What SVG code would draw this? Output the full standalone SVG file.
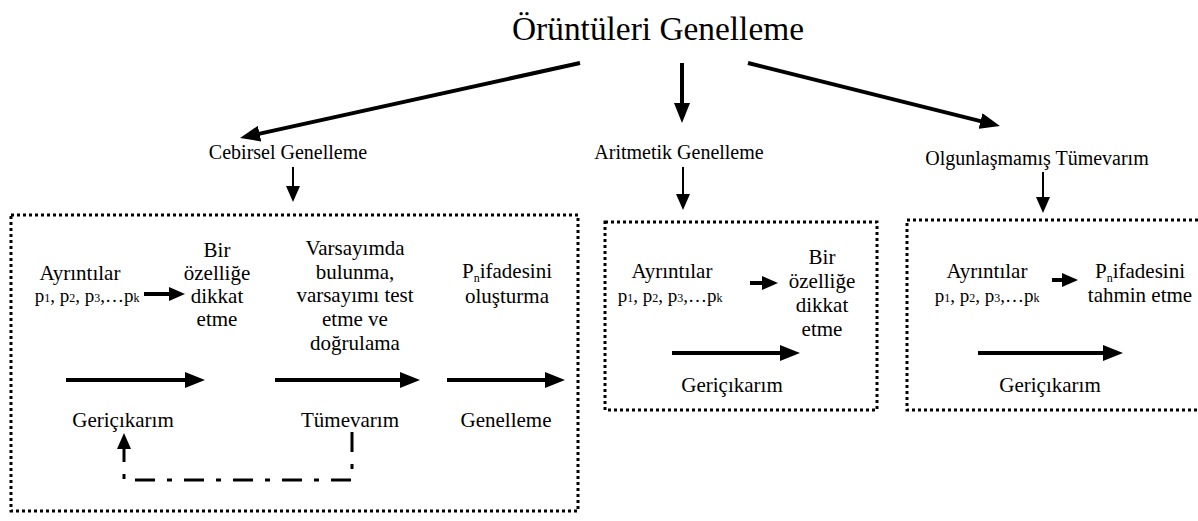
<svg xmlns="http://www.w3.org/2000/svg" width="1198" height="521" viewBox="0 0 1198 521">
<style>
text{font-family:"Liberation Serif","Noto Serif","DejaVu Serif",Tinos,"Times New Roman",serif;fill:#000;text-anchor:middle}
.t{font-size:21px}
.p{font-size:19px}
.h{font-size:20px}
.ti{font-size:33px}
.s{font-size:12px}
.box{fill:none;stroke:#000;stroke-width:3;stroke-dasharray:3 3}
.a4{fill:none;stroke:#000;stroke-width:4}
.a2{fill:none;stroke:#000;stroke-width:2}
.dd{fill:none;stroke:#000;stroke-width:3;stroke-dasharray:20 12 5 12}
</style>
<defs>
<marker id="big" markerUnits="userSpaceOnUse" markerWidth="20" markerHeight="16" viewBox="0 0 20 16" refX="2" refY="8" orient="auto"><path d="M0,0 L20,8 L0,16 z" fill="#000"/></marker>
<marker id="sm" markerUnits="userSpaceOnUse" markerWidth="16" markerHeight="14" viewBox="0 0 16 14" refX="2" refY="7" orient="auto"><path d="M0,0 L16,7 L0,14 z" fill="#000"/></marker>
</defs>

<g id="title"><text class="ti" x="658" y="40" textLength="292" lengthAdjust="spacingAndGlyphs">Örüntüleri Genelleme</text></g>

<g id="cebirsel"><text class="h" x="288" y="159">Cebirsel Genelleme</text></g>
<g id="aritmetik"><text class="h" x="679" y="159">Aritmetik Genelleme</text></g>
<g id="olgun"><text class="h" x="1037" y="165">Olgunlaşmamış Tümevarım</text></g>

<g id="box1">
<rect class="box" x="11" y="215" width="567" height="296"/>
<text class="t" x="80" y="280">Ayrıntılar</text>
<text class="p" x="87" y="302">p<tspan class="s">1</tspan>, p<tspan class="s">2</tspan>, p<tspan class="s">3</tspan>,…p<tspan class="s">k</tspan></text>
<text class="t" x="217" y="257">Bir</text>
<text class="t" x="217" y="280">özelliğe</text>
<text class="t" x="217" y="303">dikkat</text>
<text class="t" x="217" y="326">etme</text>
<text class="t" x="355" y="255">Varsayımda</text>
<text class="t" x="355" y="279">bulunma,</text>
<text class="t" x="355" y="302">varsayımı test</text>
<text class="t" x="355" y="326">etme ve</text>
<text class="t" x="355" y="350">doğrulama</text>
<text class="t" x="507" y="278">P<tspan class="s" baseline-shift="-4">n</tspan>ifadesini</text>
<text class="t" x="507" y="303">oluşturma</text>
<text class="t" x="123" y="427">Geriçıkarım</text>
<text class="t" x="350" y="427">Tümevarım</text>
<text class="t" x="506" y="427">Genelleme</text>
</g>

<g id="box2">
<rect class="box" x="605" y="222" width="272" height="188"/>
<text class="t" x="672" y="278">Ayrıntılar</text>
<text class="p" x="670" y="302">p<tspan class="s">1</tspan>, p<tspan class="s">2</tspan>, p<tspan class="s">3</tspan>,…p<tspan class="s">k</tspan></text>
<text class="t" x="822" y="264">Bir</text>
<text class="t" x="822" y="288">özelliğe</text>
<text class="t" x="822" y="312">dikkat</text>
<text class="t" x="822" y="336">etme</text>
<text class="t" x="732" y="392">Geriçıkarım</text>
</g>

<g id="box3">
<rect class="box" x="907" y="220" width="320" height="190"/>
<text class="t" x="987" y="278">Ayrıntılar</text>
<text class="p" x="987" y="302">p<tspan class="s">1</tspan>, p<tspan class="s">2</tspan>, p<tspan class="s">3</tspan>,…p<tspan class="s">k</tspan></text>
<text class="t" x="1140" y="278">P<tspan class="s" baseline-shift="-4">n</tspan>ifadesini</text>
<text class="t" x="1140" y="302">tahmin etme</text>
<text class="t" x="1050" y="392">Geriçıkarım</text>
</g>

<g id="connectors">
<line class="a4" x1="580" y1="63" x2="257.6" y2="134.1" marker-end="url(#big)"/>
<line class="a4" x1="682" y1="63" x2="682" y2="105" marker-end="url(#big)"/>
<line class="a4" x1="748" y1="63" x2="982.5" y2="121.6" marker-end="url(#big)"/>
<line class="a2" x1="293" y1="167" x2="293" y2="188" marker-end="url(#sm)"/>
<line class="a2" x1="683" y1="167" x2="683" y2="196" marker-end="url(#sm)"/>
<line class="a2" x1="1043" y1="172" x2="1043" y2="199" marker-end="url(#sm)"/>
<line class="a4" x1="144" y1="294" x2="171" y2="294" marker-end="url(#sm)"/>
<line class="a4" x1="66" y1="380" x2="187" y2="380" marker-end="url(#big)"/>
<line class="a4" x1="275" y1="380" x2="402" y2="380" marker-end="url(#big)"/>
<line class="a4" x1="447" y1="380" x2="547" y2="380" marker-end="url(#big)"/>
<line class="a4" x1="750" y1="283" x2="764" y2="283" marker-end="url(#sm)"/>
<line class="a4" x1="672" y1="353" x2="782" y2="353" marker-end="url(#big)"/>
<line class="a4" x1="1052" y1="280" x2="1064" y2="280" marker-end="url(#sm)"/>
<line class="a4" x1="978" y1="353" x2="1105" y2="353" marker-end="url(#big)"/>
<path class="dd" d="M352,432 V480 H124 V447" marker-end="url(#sm)"/>
</g>
</svg>
